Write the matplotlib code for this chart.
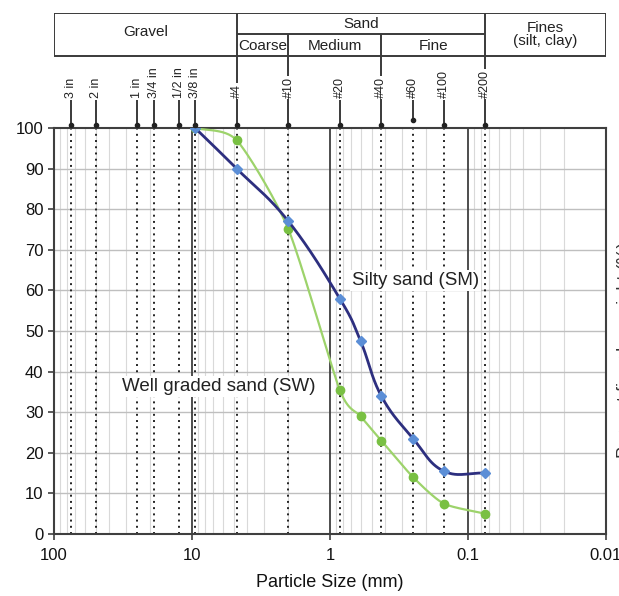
import numpy as np
import matplotlib
matplotlib.use("Agg")
import matplotlib.pyplot as plt
from matplotlib.ticker import FixedLocator, NullLocator, FixedFormatter

plt.rcParams['font.family'] = ['Liberation Sans', 'DejaVu Sans']

# Sieve designations and openings (mm)
sieve_names = ["3 in", "2 in", "1 in", "3/4 in", "1/2 in", "3/8 in",
               "#4", "#10", "#20", "#40", "#60", "#100", "#200"]
sieve_sizes = [75, 50, 25, 19, 12.5, 9.5, 4.75, 2.0, 0.85, 0.425, 0.25, 0.15, 0.075]

# Silty sand (SM) gradation
sm_size = [9.5, 4.75, 2.0, 0.85, 0.6, 0.425, 0.25, 0.15, 0.075]
sm_pct = [100, 90, 77, 58, 47.5, 34, 23.5, 15.5, 15]

# Well graded sand (SW) gradation
sw_size = [9.5, 4.75, 2.0, 0.85, 0.6, 0.425, 0.25, 0.15, 0.075]
sw_pct = [100, 97, 75, 35.5, 29, 23, 14, 7.5, 5]

# Soil class boundaries (mm)
gravel_sand = 4.75
coarse_medium = 2.0
medium_fine = 0.425
sand_fines = 0.075

y_ticks = [0, 10, 20, 30, 40, 50, 60, 70, 80, 90, 100]
x_ticks = [100, 10, 1, 0.1, 0.01]
x_labels = ["100", "10", "1", "0.1", "0.01"]

W, H, DPI = 619, 596, 100
fig = plt.figure(figsize=(W / DPI, H / DPI), dpi=DPI)


def rect(left, top, right, bottom):
    return [left / W, 1 - bottom / H, (right - left) / W, (bottom - top) / H]


def smooth(xs, ys, k=0.5, n=30):
    """Cardinal spline through the points in (log x, y) space; k scales the tangents."""
    lx = np.log10(np.asarray(xs, float))
    y = np.asarray(ys, float)
    P = np.column_stack([lx, y])
    m = np.zeros_like(P)
    m[1:-1] = (P[2:] - P[:-2]) / 2 * k
    m[0] = (P[1] - P[0]) * k
    m[-1] = (P[-1] - P[-2]) * k
    out = []
    t = np.linspace(0, 1, n)[:, None]
    h00 = 2 * t ** 3 - 3 * t ** 2 + 1
    h10 = t ** 3 - 2 * t ** 2 + t
    h01 = -2 * t ** 3 + 3 * t ** 2
    h11 = t ** 3 - t ** 2
    for i in range(len(P) - 1):
        seg = h00 * P[i] + h10 * m[i] * 2 + h01 * P[i + 1] + h11 * m[i + 1] * 2
        out.append(seg if i == 0 else seg[1:])
    out = np.vstack(out)
    return 10 ** out[:, 0], out[:, 1]


# ---------------- main chart ----------------
ax = fig.add_axes(rect(54, 128, 606, 534))
ax.set_xscale('log')
ax.set_xlim(100, 0.01)
ax.set_ylim(0, 100)

# minor vertical grid
for dec in [10, 1, 0.1, 0.01]:
    for m in range(2, 10):
        ax.axvline(dec * m, color='#d9d9d9', lw=0.8, zorder=0)
# horizontal grid
for yv in y_ticks[1:-1]:
    ax.axhline(yv, color='#bfbfbf', lw=1.0, zorder=0)
# major vertical grid
for xv in [10, 1, 0.1]:
    ax.axvline(xv, color='#3f3f3f', lw=1.3, zorder=1)

# dotted sieve lines
for s in sieve_sizes:
    ax.axvline(s, color='#222222', lw=1.4, ls=(0, (1, 2.2)), zorder=2)

# gradation curves
xs, ys = smooth(sw_size, sw_pct, k=0.35)
ax.plot(xs, ys, color='#9dd36b', lw=1.6, zorder=4)
ax.plot(sw_size, sw_pct, ls='none', marker='o', ms=6, color='#79c043', zorder=5)

xs, ys = smooth(sm_size, sm_pct, k=0.6)
ax.plot(xs, ys, color='#2d2f7f', lw=2.0, zorder=6)
ax.plot(sm_size, sm_pct, ls='none', marker='D', ms=5, color='#5b8ed6', zorder=7)

ax.text(0.24, 62.5, "Silty sand (SM)", fontsize=13.5, ha='center', va='center',
        color='#222222', zorder=3,
        bbox=dict(facecolor='white', edgecolor='none', pad=1.5))
ax.text(6.4, 36.3, "Well graded sand (SW)", fontsize=13.5, ha='center', va='center',
        color='#222222', zorder=3,
        bbox=dict(facecolor='white', edgecolor='none', pad=1.5))

for side in ['left', 'right', 'top', 'bottom']:
    ax.spines[side].set_color('#3f3f3f')
    ax.spines[side].set_linewidth(1.5)

ax.yaxis.set_major_locator(FixedLocator(y_ticks))
ax.xaxis.set_major_locator(FixedLocator(x_ticks))
ax.xaxis.set_major_formatter(FixedFormatter(x_labels))
ax.xaxis.set_minor_locator(NullLocator())
ax.tick_params(axis='both', which='major', labelsize=12, length=4, width=1.2,
               color='#3f3f3f', labelcolor='#111111')
ax.tick_params(axis='x', pad=6)
ax.set_xlabel("Particle Size (mm)", fontsize=13, color='#111111', labelpad=8)

# ---------------- header with classification and sieves ----------------
hx = fig.add_axes(rect(54, 13, 606, 128))
hx.set_xscale('log')
hx.set_xlim(100, 0.01)
hx.set_ylim(0, 115)
hx.axis('off')

lc = '#3a3a3a'
lw = 1.4
hx.hlines([115, 72], 100, 0.01, color=lc, lw=lw)
hx.vlines([100, gravel_sand, sand_fines, 0.01], 72, 115, color=lc, lw=lw)
hx.hlines(94, gravel_sand, sand_fines, color=lc, lw=lw)
hx.vlines([coarse_medium, medium_fine], 72, 94, color=lc, lw=lw)

hx.text(np.sqrt(100 * gravel_sand), 96, "Gravel", fontsize=11, ha='center', va='center', color='#222222')
hx.text(np.sqrt(gravel_sand * sand_fines), 104, "Sand", fontsize=11, ha='center', va='center', color='#222222')
hx.text(np.sqrt(gravel_sand * coarse_medium), 82.5, "Coarse", fontsize=11, ha='center', va='center', color='#222222')
hx.text(np.sqrt(coarse_medium * medium_fine), 82.5, "Medium", fontsize=11, ha='center', va='center', color='#222222')
hx.text(np.sqrt(medium_fine * sand_fines), 82.5, "Fine", fontsize=11, ha='center', va='center', color='#222222')
hx.text(np.sqrt(sand_fines * 0.01), 93.5, "Fines\n(silt, clay)", fontsize=11, ha='center', va='center',
        color='#222222', linespacing=1.0)

bounds = [gravel_sand, coarse_medium, medium_fine, sand_fines]
for name, s in zip(sieve_names, sieve_sizes):
    if s in bounds:
        hx.vlines(s, 2, 72, color=lc, lw=lw)
        tip = 2
    else:
        tip = 7 if name == "#60" else 2
        hx.vlines(s, tip, 28, color=lc, lw=lw)
    hx.plot([s], [tip + 1], marker='o', ms=3, color='#222222')
    hx.text(s, 30, name, rotation=90, fontsize=9, ha='center', va='bottom', color='#222222',
            bbox=dict(facecolor='white', edgecolor='none', pad=0.5))

# secondary axis title, mostly beyond the right edge
fig.text(617 / W, 1 - 350 / H, "Percent finer by weight (%)", rotation=90, fontsize=13,
         ha='left', va='center', color='#333333')

fig.savefig("out.png", dpi=DPI)
